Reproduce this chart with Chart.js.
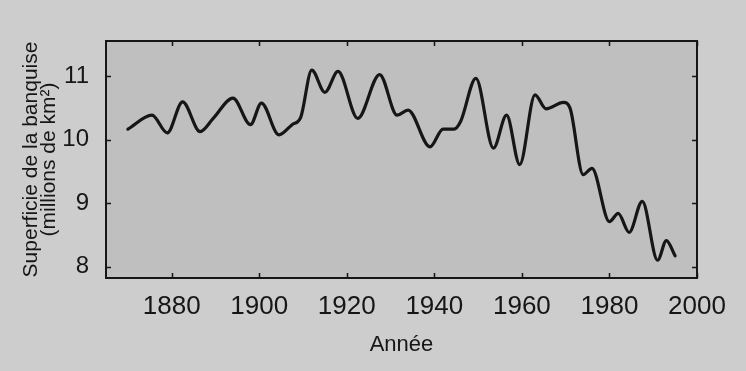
<!DOCTYPE html>
<html>
<head>
<meta charset="utf-8">
<title>Superficie de la banquise</title>
<script src="https://cdn.jsdelivr.net/npm/chart.js@4.4.1/dist/chart.umd.min.js"></script>
<style>
  html, body { margin: 0; padding: 0; background: #cdcdcd; }
  #wrap { width: 746px; height: 371px; }
  canvas { display: block; }
</style>
</head>
<body>
<div id="wrap"><canvas id="chart" width="746" height="371"></canvas></div>
<script>
// Superficie de la banquise (millions de km²), courbe lissée
const years = [
  1870, 1875.5, 1879, 1882.5, 1886.5, 1889.5, 1894, 1898, 1900.5, 1904.5,
  1907.5, 1909.5, 1912, 1915, 1918, 1922.5, 1927.5, 1931.5, 1934, 1939,
  1942, 1944.5, 1946, 1949.5, 1953.5, 1956.5, 1959.5, 1963, 1965.5, 1969.5,
  1971, 1974, 1976, 1980, 1982, 1984.5, 1987.5, 1991, 1993, 1995
];
const extent = [
  10.17, 10.39, 10.11, 10.60, 10.13, 10.34, 10.66, 10.24, 10.58, 10.08,
  10.24, 10.36, 11.10, 10.75, 11.08, 10.34, 11.03, 10.39, 10.47, 9.89,
  10.17, 10.17, 10.29, 10.97, 9.87, 10.39, 9.61, 10.71, 10.49, 10.59,
  10.50, 9.45, 9.55, 8.71, 8.84, 8.54, 9.03, 8.10, 8.41, 8.17
];
const xTicks = [1880, 1900, 1920, 1940, 1960, 1980, 2000];
const yTicks = [8, 9, 10, 11];

const FONT = "'Liberation Sans', Arial, Helvetica, sans-serif";
const INK = '#161616';

// Background, plot frame and inward tick marks on all four sides
const framePlugin = {
  id: 'frame',
  beforeDraw(chart) {
    const { ctx, chartArea: a } = chart;
    ctx.save();
    ctx.fillStyle = '#cdcdcd';
    ctx.fillRect(0, 0, chart.width, chart.height);
    ctx.fillStyle = '#bfbfbf';
    ctx.fillRect(a.left, a.top, a.right - a.left, a.bottom - a.top);
    ctx.restore();
  },
  afterDraw(chart) {
    const { ctx, chartArea: a, scales } = chart;
    const len = 5;
    ctx.save();
    ctx.strokeStyle = INK;
    ctx.lineWidth = 2;
    ctx.strokeRect(a.left, a.top, a.right - a.left, a.bottom - a.top);
    ctx.lineWidth = 1.5;
    ctx.beginPath();
    xTicks.forEach(v => {
      const px = Math.round(scales.x.getPixelForValue(v)) + 0.5;
      ctx.moveTo(px, a.bottom); ctx.lineTo(px, a.bottom - len);
      ctx.moveTo(px, a.top); ctx.lineTo(px, a.top + len);
    });
    yTicks.forEach(v => {
      const py = Math.round(scales.y.getPixelForValue(v)) + 0.5;
      ctx.moveTo(a.left, py); ctx.lineTo(a.left + len, py);
      ctx.moveTo(a.right, py); ctx.lineTo(a.right - len, py);
    });
    ctx.stroke();
    ctx.restore();
  }
};

new Chart(document.getElementById('chart'), {
  type: 'line',
  data: {
    datasets: [{
      data: years.map((y, i) => ({ x: y, y: extent[i] })),
      borderColor: INK,
      borderWidth: 3.2,
      pointRadius: 0,
      fill: false,
      cubicInterpolationMode: 'monotone',
      borderCapStyle: 'round',
      borderJoinStyle: 'round'
    }]
  },
  options: {
    responsive: false,
    animation: false,
    devicePixelRatio: 1,
    layout: { padding: { top: 41, right: 49, left: 0, bottom: 0 } },
    plugins: { legend: { display: false }, tooltip: { enabled: false } },
    scales: {
      x: {
        type: 'linear',
        min: 1865,
        max: 2000,
        afterBuildTicks: s => { s.ticks = xTicks.map(v => ({ value: v })); },
        afterFit: s => { s.height = 93; },
        grid: { display: false },
        border: { display: false },
        ticks: {
          font: { family: FONT, size: 26 },
          color: INK,
          padding: 5,
          maxRotation: 0,
          autoSkip: false,
          callback: v => String(v)
        },
        title: {
          display: true,
          text: 'Année',
          font: { family: FONT, size: 22 },
          color: INK,
          padding: { top: 0, bottom: 13 }
        }
      },
      y: {
        min: 7.82,
        max: 11.56,
        afterBuildTicks: s => { s.ticks = yTicks.map(v => ({ value: v })); },
        afterFit: s => { s.width = 106; },
        grid: { display: false },
        border: { display: false },
        ticks: {
          font: { family: FONT, size: 24 },
          color: INK,
          padding: 9,
          callback: v => String(v)
        },
        title: {
          display: true,
          text: ['Superficie de la banquise', '(millions de km²)'],
          font: { family: FONT, size: 21, lineHeight: 0.82 },
          color: INK,
          padding: { top: 23, bottom: 0 }
        }
      }
    }
  },
  plugins: [framePlugin]
});
</script>
</body>
</html>
